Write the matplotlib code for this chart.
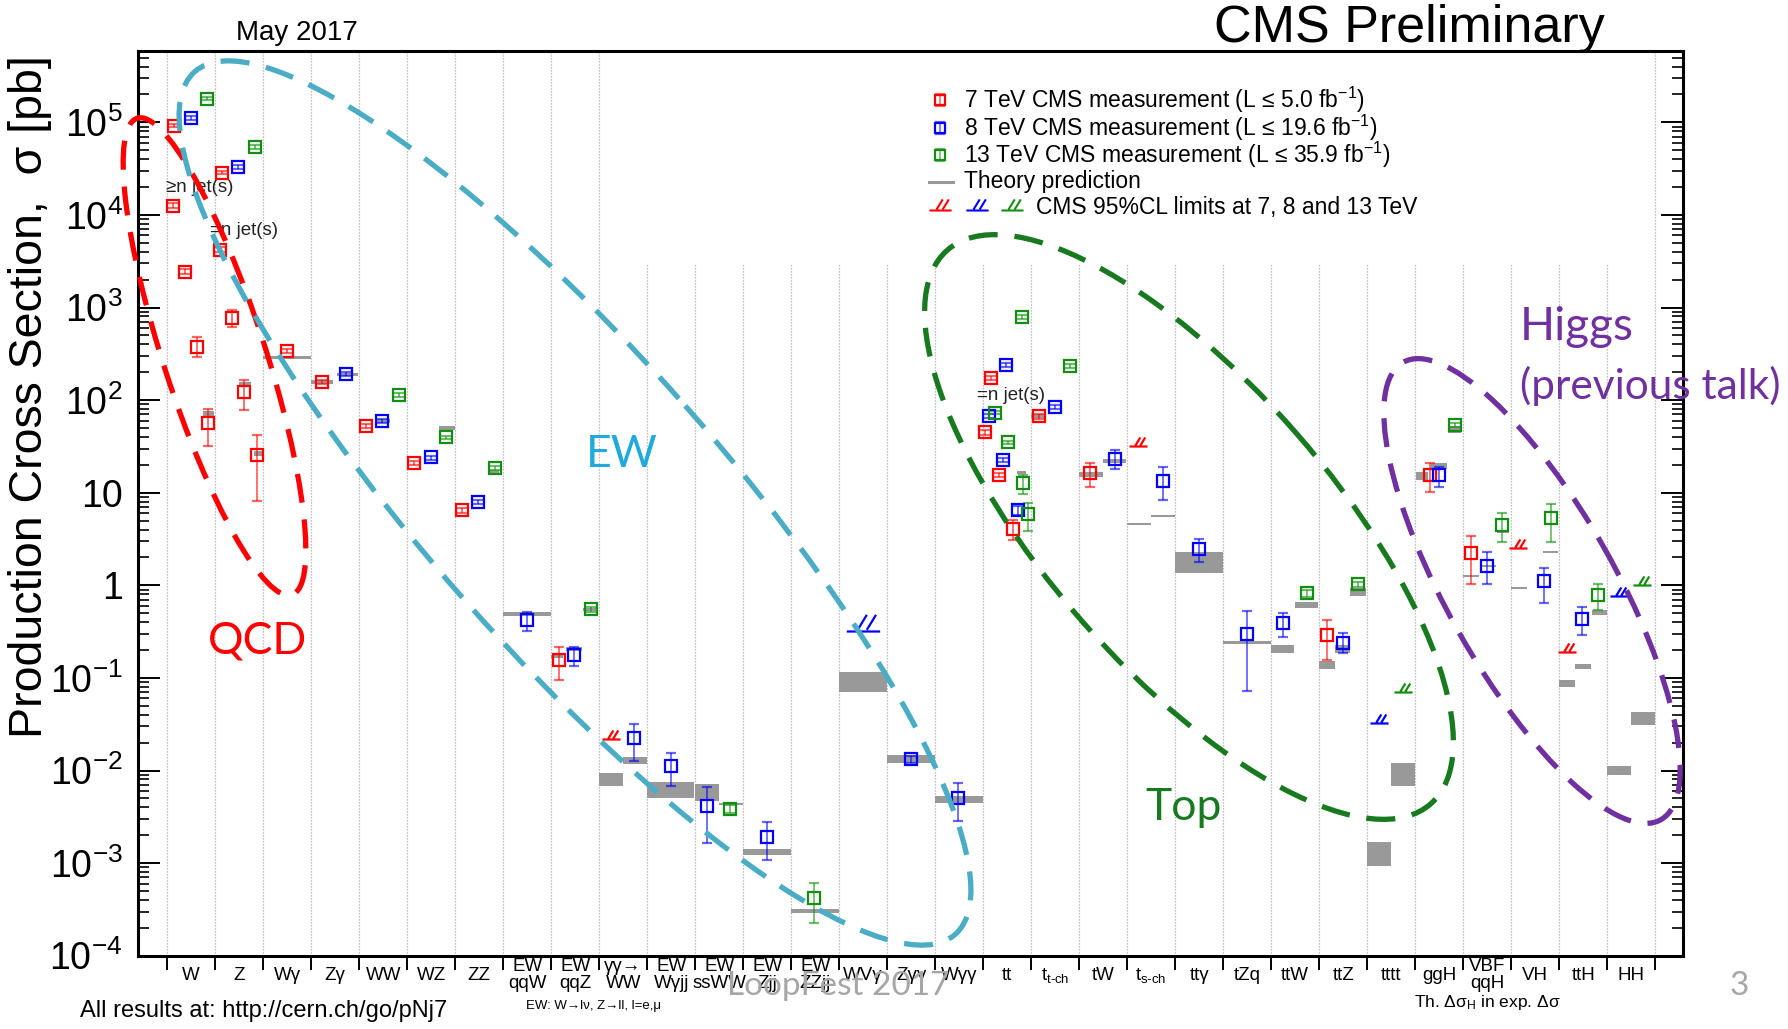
import numpy as np
import matplotlib
matplotlib.use("Agg")
import matplotlib.pyplot as plt
from matplotlib.patches import Ellipse
from matplotlib.path import Path
from matplotlib.colors import to_rgba

plt.rcParams['font.family'] = ['Liberation Sans', 'DejaVu Sans']
plt.rcParams['mathtext.fontset'] = 'custom'
plt.rcParams['mathtext.rm'] = 'Liberation Sans'
plt.rcParams['mathtext.it'] = 'Liberation Sans:italic'
plt.rcParams['mathtext.sf'] = 'Liberation Sans'

W_PX, H_PX = 1788, 1029

# process columns, left to right
processes = ['W', 'Z', 'Wg', 'Zg', 'WW', 'WZ', 'ZZ', 'EWqqW', 'EWqqZ', 'aaWW', 'EWWgjj', 'EWssWW',
             'EWZjj', 'EWZZjj', 'WVg', 'Zgg', 'Wgg', 'tt', 'tch', 'tW', 'sch', 'ttg', 'tZq', 'ttW',
             'ttZ', 'tttt', 'ggH', 'VBF', 'VH', 'ttH', 'HH']
process_labels = ['W', 'Z', 'Wγ', 'Zγ', 'WW', 'WZ', 'ZZ', 'EW\nqqW', 'EW\nqqZ', 'γγ→\nWW', 'EW\nWγjj',
                  'EW\nssWW', 'EW\nZjj', 'EW\nZZjj', 'WVγ', 'Zγγ', 'Wγγ', 'tt', r't$_{\text{t-ch}}$', 'tW',
                  r't$_{\text{s-ch}}$', 'ttγ', 'tZq', 'ttW', 'ttZ', 'tttt', 'ggH', 'VBF\nqqH', 'VH', 'ttH', 'HH']

# 7 TeV measurements [pb]: process, place inside the column, value, error-bar ends
proc7 = ['W', 'W', 'W', 'W', 'W', 'Z', 'Z', 'Z', 'Z', 'Z', 'Wg', 'Zg', 'WW', 'WZ', 'ZZ', 'EWqqZ',
         'tt', 'tt', 'tt', 'tt', 'tch', 'tW', 'ttZ', 'ggH', 'VBF']
slot7 = [0.14, 0.12, 0.37, 0.615, 0.846, 0.14, 0.11, 0.35, 0.61, 0.867, 0.496, 0.23, 0.14, 0.15, 0.15, 0.165,
         0.155, 0.04, 0.335, 0.63, 0.155, 0.22, 0.16, 0.31, 0.16]
sigma7 = [9.2e4, 1.26e4, 2.44e3, 378, 56, 2.86e4, 4.2e3, 764, 121, 25.5, 339, 158, 52.5, 20.8, 6.5, 0.155,
          172, 45, 15.5, 4.1, 67, 16.2, 0.29, 15.5, 2.22]
lo7 = [8.8e4, 1.2e4, 2.3e3, 290, 32, 2.75e4, 4.0e3, 620, 79, 8.1, 322, 150, 50, 19.8, 6.1, 0.094,
       163, 42.5, 14.6, 3.1, 63, 11.6, 0.156, 10.3, 1.03]
hi7 = [9.6e4, 1.33e4, 2.6e3, 484, 81, 2.98e4, 4.45e3, 940, 165, 42, 356, 166, 55, 21.8, 6.9, 0.213,
       181, 47.5, 16.4, 5.1, 71, 20.7, 0.42, 21.1, 3.4]

# 8 TeV measurements [pb]
proc8 = ['W', 'Z', 'Zg', 'WW', 'WZ', 'ZZ', 'EWqqW', 'EWqqZ', 'aaWW', 'EWWgjj', 'EWssWW', 'EWZjj', 'Zgg',
         'Wgg', 'tt', 'tt', 'tt', 'tt', 'tch', 'tW', 'sch', 'ttg', 'tZq', 'ttW', 'ttZ', 'ggH', 'VBF', 'VH', 'ttH']
slot8 = [0.49, 0.475, 0.725, 0.475, 0.49, 0.48, 0.5, 0.475, 0.725, 0.49, 0.24, 0.5, 0.49,
         0.48, 0.475, 0.13, 0.42, 0.73, 0.5, 0.74, 0.74, 0.5, 0.49, 0.24, 0.5, 0.49, 0.49, 0.69, 0.48]
sigma8 = [1.12e5, 3.3e4, 190, 59.5, 24, 8.0, 0.418, 0.175, 0.0223, 0.01127, 0.00417, 0.0019, 0.0132,
          0.005, 239, 67, 22.5, 6.5, 85, 23.1, 13.4, 2.45, 0.298, 0.394, 0.24, 15.5, 1.63, 1.11, 0.43]
lo8 = [1.07e5, 3.15e4, 181, 56.5, 22.8, 7.6, 0.324, 0.134, 0.0128, 0.0068, 0.00164, 0.00108, 0.0121,
       0.00287, 228, 64, 21.4, 5.8, 81, 17.9, 8.3, 1.8, 0.0728, 0.279, 0.184, 11.6, 1.03, 0.649, 0.29]
hi8 = [1.17e5, 3.45e4, 199, 62.5, 25.2, 8.4, 0.516, 0.218, 0.0318, 0.01556, 0.00659, 0.00275, 0.0143,
       0.00738, 250, 70, 23.6, 7.2, 89, 28.9, 18.8, 3.14, 0.527, 0.506, 0.308, 19.1, 2.27, 1.53, 0.578]

# 13 TeV measurements [pb]
proc13 = ['W', 'Z', 'WW', 'WZ', 'ZZ', 'EWqqZ', 'EWssWW', 'EWZZjj', 'tt', 'tt', 'tt', 'tt', 'tt', 'tch',
          'ttW', 'ttZ', 'ggH', 'VBF', 'VH', 'ttH']
slot13 = [0.82, 0.82, 0.82, 0.81, 0.825, 0.82, 0.73, 0.48, 0.815, 0.245, 0.52, 0.835, 0.94, 0.81,
          0.74, 0.815, 0.82, 0.81, 0.83, 0.81]
sigma13 = [1.8e5, 5.45e4, 113, 39.6, 18.3, 0.55, 0.00384, 0.000417, 784, 73, 35, 12.6, 5.9, 233,
           0.82, 1.03, 53.8, 4.48, 5.3, 0.786]
lo13 = [1.72e5, 5.2e4, 108, 37.8, 17.4, 0.52, 0.0035, 0.000224, 750, 70, 33.5, 9.8, 3.9, 223,
        0.75, 0.97, 51, 2.91, 2.96, 0.54]
hi13 = [1.88e5, 5.7e4, 118, 41.4, 19.2, 0.58, 0.0042, 0.000605, 820, 76, 36.5, 15.5, 7.8, 243,
        0.9, 1.09, 56.5, 6.08, 7.55, 1.03]

# theory predictions: process, span inside the column, band low/high [pb]
th_proc = ['W', 'Z', 'Z', 'Wg', 'Zg', 'Zg', 'WW', 'WZ', 'ZZ', 'EWqqW', 'EWqqZ', 'EWqqZ', 'EWqqZ',
           'aaWW', 'aaWW', 'EWWgjj', 'EWssWW', 'EWssWW', 'EWZjj', 'EWZZjj', 'WVg', 'Zgg', 'Wgg',
           'tt', 'tch', 'tW', 'tW', 'sch', 'sch', 'ttg', 'tZq', 'ttW', 'ttW', 'ttZ', 'ttZ', 'ttZ',
           'tttt', 'tttt', 'ggH', 'ggH', 'ggH', 'VBF', 'VBF', 'VBF', 'VH', 'VH', 'ttH', 'ttH', 'ttH',
           'HH', 'HH']
th_from = [0.74, 0.5, 0.8, 0.0, 0.0, 0.53, 0.37, 0.67, 0.68, 0.0, 0.0, 0.3, 0.67,
           0.0, 0.49, 0.0, 0.0, 0.5, 0.0, 0.0, 0.0, 0.0, 0.0,
           0.7, 0.0, 0.0, 0.5, 0.0, 0.5, 0.0, 0.0, 0.0, 0.5, 0.0, 0.33, 0.65,
           0.0, 0.5, 0.02, 0.34, 0.68, 0.0, 0.37, 0.7, 0.0, 0.66, 0.0, 0.33, 0.68,
           0.0, 0.49]
th_to = [0.98, 0.74, 0.98, 1.0, 0.46, 0.97, 0.65, 1.0, 0.92, 1.0, 0.24, 0.64, 0.98,
         0.49, 0.99, 0.98, 0.5, 1.0, 1.0, 1.0, 1.0, 1.0, 1.0,
         0.9, 0.29, 0.49, 0.97, 0.5, 1.0, 1.0, 1.0, 0.48, 0.98, 0.33, 0.64, 0.98,
         0.5, 1.0, 0.26, 0.66, 0.96, 0.33, 0.68, 0.95, 0.33, 0.98, 0.33, 0.66, 1.0,
         0.49, 1.0]
th_lo = [68, 140, 25, 280, 151, 182, 57, 48, 16.2, 0.47, 0.163, 0.195, 0.53,
         0.00685, 0.01175, 0.00501, 0.00472, 0.0042, 0.00122, 0.000289, 0.071, 0.0121, 0.00449,
         15.8, 64, 14.9, 21, 4.5, 5.5, 1.35, 0.23, 0.187, 0.565, 0.126, 0.187, 0.766,
         0.00094, 0.00685, 13.7, 17.9, 44.5, 1.22, 1.58, 3.7, 0.91, 2.25, 0.080, 0.124, 0.478,
         0.0089, 0.031]
th_hi = [76, 158, 28, 300, 165, 198, 62, 52, 17.6, 0.52, 0.177, 0.213, 0.57,
         0.00946, 0.01386, 0.00746, 0.0071, 0.0045, 0.00141, 0.000319, 0.116, 0.0147, 0.00535,
         17.0, 70, 16.9, 23, 4.7, 5.75, 2.3, 0.25, 0.226, 0.665, 0.153, 0.226, 0.93,
         0.0017, 0.0121, 16.9, 20.8, 52.5, 1.30, 1.66, 3.9, 0.97, 2.35, 0.095, 0.14, 0.54,
         0.0113, 0.0425]

# 95% CL upper limits [pb]
lim7_proc, lim7_slot, lim7_val = ['aaWW', 'sch', 'VH', 'ttH'], [0.24, 0.23, 0.15, 0.16], [0.0219, 32.2, 2.51, 0.192]
lim8_proc, lim8_slot, lim8_val = ['tttt', 'HH'], [0.25, 0.25], [0.0328, 0.766]
lim8w_proc, lim8w_slot, lim8w_val = ['WVg'], [0.5], [0.318]
lim13_proc, lim13_slot, lim13_val = ['tttt', 'HH'], [0.75, 0.73], [0.071, 1.0]

ytick_vals = [1e-4, 1e-3, 1e-2, 1e-1, 1, 10, 1e2, 1e3, 1e4, 1e5]
ytick_labels = ['$10^{-4}$', '$10^{-3}$', '$10^{-2}$', '$10^{-1}$', '1', '10',
                '$10^{2}$', '$10^{3}$', '$10^{4}$', '$10^{5}$']

RED, BLUE, GREEN, GREY = '#ff0000', '#0000ff', '#128f12', '#999999'

lim_marker = Path([(-1, 0), (1, 0), (-0.35, 0.1), (0.2, 1.0), (0.2, 0.1), (0.75, 1.0)],
                  [Path.MOVETO, Path.LINETO, Path.MOVETO, Path.LINETO, Path.MOVETO, Path.LINETO])


def col(p):
    return processes.index(p)


fig = plt.figure(figsize=(W_PX / 100, H_PX / 100), dpi=100)
ax = fig.add_axes([137.8 / W_PX, 1 - 955.7 / H_PX, (1683 - 137.8) / W_PX, (955.7 - 51) / H_PX])
ax.set_yscale('log')
ytop = 10 ** 5.77
ax.set_ylim(1e-4, ytop)
ax.set_xlim(-0.6125, 31.58)

# dotted column separators (the ones under the legend stop short)
for b in range(len(processes) + 1):
    top = ytop if (b <= 9 or b == len(processes)) else 10 ** 3.47
    ax.plot([b, b], [1e-4, top], ls=(0, (1, 1.4)), color='#aaaaaa', lw=0.9, zorder=0)

# theory bands
for p, f0, f1, lo, hi in zip(th_proc, th_from, th_to, th_lo, th_hi):
    ax.bar(col(p) + f0, hi - lo, width=f1 - f0, bottom=lo, align='edge', color=GREY, lw=0, zorder=2)


def draw_meas(proc, slot, sig, lo, hi, color):
    x = [col(p) + s for p, s in zip(proc, slot)]
    sig, lo, hi = np.array(sig), np.array(lo), np.array(hi)
    ax.errorbar(x, sig, yerr=[sig - lo, hi - sig], fmt='s', ms=8.3, mfc='none', mec=color, mew=1.6,
                ecolor=to_rgba(color, 0.6), elinewidth=1.3, capsize=3.7, capthick=1.3, zorder=4)


draw_meas(proc7, slot7, sigma7, lo7, hi7, RED)
draw_meas(proc8, slot8, sigma8, lo8, hi8, BLUE)
draw_meas(proc13, slot13, sigma13, lo13, hi13, GREEN)


def draw_limits(proc, slot, vals, color, size=13):
    x = [col(p) + s for p, s in zip(proc, slot)]
    ax.plot(x, vals, ls='none', marker=lim_marker, ms=size, mew=1.6, mec=color, mfc='none', zorder=4)


draw_limits(lim7_proc, lim7_slot, lim7_val, RED)
draw_limits(lim8_proc, lim8_slot, lim8_val, BLUE)
draw_limits(lim8w_proc, lim8w_slot, lim8w_val, BLUE, size=24)
draw_limits(lim13_proc, lim13_slot, lim13_val, GREEN)

# jet multiplicity notes
ax.text(-0.03, 2.0e4, '≥n jet(s)', fontsize=13.5, color='#222222', va='center', ha='left', zorder=3)
ax.text(0.9, 6.8e3, '=n jet(s)', fontsize=13.5, color='#222222', va='center', ha='left', zorder=3)
ax.text(16.87, 111, '=n jet(s)', fontsize=13.5, color='#222222', va='center', ha='left', zorder=3)

# axes styling
ax.set_yticks(ytick_vals)
ax.set_yticklabels(ytick_labels, fontsize=27)
ax.yaxis.set_minor_locator(matplotlib.ticker.LogLocator(base=10, subs=np.arange(2, 10), numticks=20))
ax.yaxis.set_minor_formatter(matplotlib.ticker.NullFormatter())
ax.tick_params(axis='y', which='major', direction='in', length=16, width=1.4, right=True, pad=11)
ax.tick_params(axis='y', which='minor', direction='in', length=8, width=1.2, right=True)
ax.set_xticks(np.arange(len(processes)) + 0.5)
ax.set_xticklabels(process_labels, fontsize=13.5, linespacing=1.0)
for lab in ax.get_xticklabels():
    lab.set_verticalalignment('center')
ax.set_xticks(np.arange(len(processes) + 1), minor=True)
ax.tick_params(axis='x', which='major', length=0, pad=14)
ax.tick_params(axis='x', which='minor', direction='out', length=10, width=1.4)
for s in ax.spines.values():
    s.set_linewidth(2.2)

# overlay in pixel units for titles, legend and hand-drawn groupings
ov = fig.add_axes([0, 0, 1, 1])
ov.set_xlim(0, W_PX)
ov.set_ylim(H_PX, 0)
ov.axis('off')
ov.patch.set_alpha(0)

ov.text(297, 33, 'May 2017', fontsize=20, ha='center', va='center')
ov.text(1214, 42, 'CMS Preliminary', fontsize=37.5, ha='left', va='baseline')
ov.text(42, 55, 'Production Cross Section,  σ [pb]', fontsize=33.5, rotation=90,
        rotation_mode='anchor', ha='right', va='baseline')
ov.text(80, 1011, 'All results at: http://cern.ch/go/pNj7', fontsize=17, ha='left', va='center')
ov.text(526, 1006, 'EW: W→lν, Z→ll, l=e,μ', fontsize=9.5, ha='left', va='center')
ov.text(1414, 1003, r'Th. Δσ$_{\mathrm{H}}$ in exp. Δσ', fontsize=12.5, ha='left', va='center')

# legend
leg_y = [100, 128.3, 155, 181.7, 207.3]
leg_text = ['7 TeV CMS measurement (L ≤ 5.0 fb$^{-1}$)', '8 TeV CMS measurement (L ≤ 19.6 fb$^{-1}$)',
            '13 TeV CMS measurement (L ≤ 35.9 fb$^{-1}$)', 'Theory prediction']
for yy, c in zip(leg_y[:3], [RED, BLUE, GREEN]):
    ov.errorbar([940], [yy], yerr=[[6], [6]], fmt='s', ms=7, mfc='none', mec=c, mew=1.6,
                ecolor=to_rgba(c, 0.6), elinewidth=1.2, capsize=3.5, capthick=1.2)
ov.plot([929, 953], [leg_y[3], leg_y[3]], color=GREY, lw=2.2)
for xx, c in zip([940, 977, 1012], [RED, BLUE, GREEN]):
    ov.plot([xx], [leg_y[4] + 3], ls='none', marker=lim_marker, ms=16, mew=1.5, mec=c, mfc='none')
for yy, t in zip(leg_y[:4], leg_text):
    ov.text(964, yy, t, fontsize=16.5, ha='left', va='center')
ov.text(1036, leg_y[4], 'CMS 95%CL limits at 7, 8 and 13 TeV', fontsize=16.5, ha='left', va='center')

# grouping ellipses and their labels
dash = (0, (5.5, 3.2))
groups = [((214.5, 356.5), 501, 102, 72.0, '#ff0000'),
          ((575, 503), 1150, 294, 48.6, '#4bacc6'),
          ((1189, 527), 735, 285, 48.9, '#177a1f'),
          ((1532, 591), 525, 168, 60.6, '#7030a0')]
for cen, w, h, ang, c in groups:
    ov.add_patch(Ellipse(cen, w, h, angle=ang, fill=False, ec=c, lw=3.8, ls=dash))

anno = dict(family=['Lato', 'DejaVu Sans'], ha='center', va='baseline')
ov.text(257, 653, 'QCD', fontsize=32, color='#ff0000', **anno)
ov.text(622, 467, 'EW', fontsize=32, color='#1fa9dc', **anno)
ov.text(1184, 820, 'Top', fontsize=32, color='#177a1f', **anno)
ov.text(1520, 340, 'Higgs', fontsize=33, color='#7030a0', family=['Lato', 'DejaVu Sans'], ha='left', va='baseline')
ov.text(1520, 399, '(previous talk)', fontsize=30.5, color='#7030a0', family=['Lato', 'DejaVu Sans'],
        ha='left', va='baseline')
ov.text(838, 995, 'LoopFest 2017', fontsize=24, color='#a6a6a6', **anno)
ov.text(1739, 995, '3', fontsize=24, color='#a6a6a6', **anno)

fig.savefig('out.png', dpi=100)
